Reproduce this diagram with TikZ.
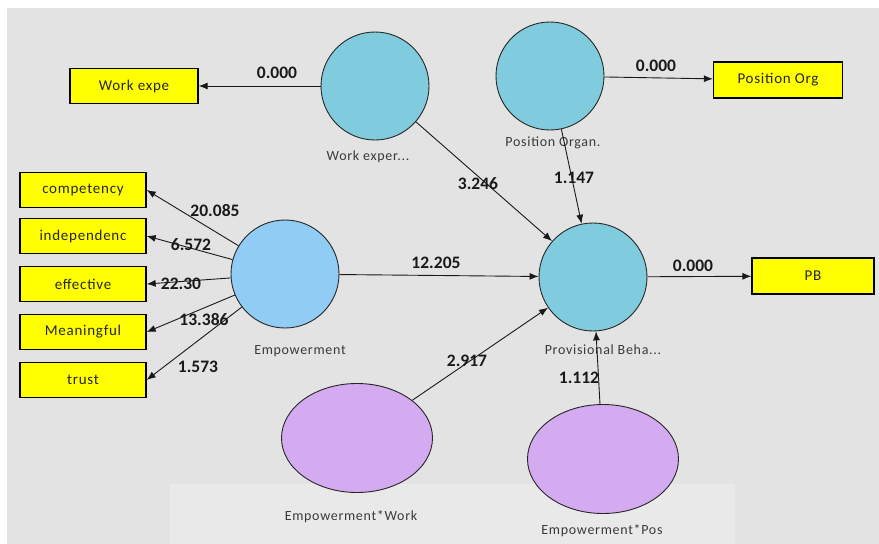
\documentclass[tikz,border=0pt]{standalone}
\usepackage{fontspec}
\setmainfont{Carlito}
\newfontfamily\spacedfont[LetterSpace=5]{Carlito}
\usetikzlibrary{arrows.meta,shapes.geometric}
\definecolor{bggray}{HTML}{E3E3E3}
\definecolor{wmark}{HTML}{E9E9E9}
\definecolor{lvteal}{HTML}{80CCDE}
\definecolor{lvblue}{HTML}{90CCF4}
\definecolor{lvlilac}{HTML}{D4AAF0}
\definecolor{boxyellow}{HTML}{FFFF00}
\definecolor{lbltext}{HTML}{3A3A3A}
\tikzset{
  latent/.style={circle, draw=black!85, line width=0.9pt, minimum size=108pt, inner sep=0pt},
  inter/.style={ellipse, draw=black!85, line width=0.9pt, fill=lvlilac, minimum width=151pt, minimum height=109pt, inner sep=0pt},
  indbox/.style={rectangle, draw=black, line width=1.3pt, fill=boxyellow, inner sep=0pt, font=\spacedfont\fontsize{15}{17}\selectfont, text=black!85},
  lvlabel/.style={font=\spacedfont\fontsize{14}{16}\selectfont, text=lbltext, inner sep=0pt},
  coef/.style={font=\bfseries\fontsize{17.5}{19}\selectfont, text=black!90, inner sep=0pt},
  path/.style={line width=0.9pt, draw=black!90, -{Latex[length=9pt,width=7pt]}}
}
\begin{document}
\begin{tikzpicture}[x=1pt,y=-1pt]
\useasboundingbox (0,0) rectangle (879,544);
\fill[white] (0,0) rectangle (879,544);
\fill[bggray] (7,8) rectangle (879,544);
\fill[wmark] (170,484) rectangle (735,544);

% latent variables
\node[latent, fill=lvteal] (we) at (375,86) {};
\node[latent, fill=lvteal] (po) at (550,76) {};
\node[latent, fill=lvblue] (emp) at (285,274) {};
\node[latent, fill=lvteal] (pb) at (593,277) {};
\node[inter] (ew) at (357,438) {};
\node[inter] (ep) at (603,459) {};

% latent labels
\node[lvlabel] (welbl) at (368,157) {Work exper...};
\node[lvlabel] (polbl) at (553,143) {Position Organ.};
\node[lvlabel] (emplbl) at (300,351) {Empowerment};
\node[lvlabel] (pblbl) at (603,350) {Provisional Beha...};
\node[lvlabel] (ewlbl) at (351,517) {Empowerment*Work};
\node[lvlabel] (eplbl) at (602,531) {Empowerment*Pos};

% indicators
\node[indbox, minimum width=128pt, minimum height=35pt] (wex) at (134,86) {Work expe};
\node[indbox, minimum width=129pt, minimum height=36pt] (pox) at (778,80) {Position Org};
\node[indbox, minimum width=122pt, minimum height=36pt] (pbx) at (813,276) {PB};
\node[indbox, minimum width=126pt, minimum height=35pt] (comp) at (83,190) {competency};
\node[indbox, minimum width=126pt, minimum height=35pt] (ind) at (83,236) {independenc};
\node[indbox, minimum width=126pt, minimum height=35pt] (eff) at (83,284) {effective};
\node[indbox, minimum width=126pt, minimum height=35pt] (mea) at (83,332) {Meaningful};
\node[indbox, minimum width=126pt, minimum height=35pt] (tru) at (83,380) {trust};

% paths
\draw[path] (we) -- (wex);
\draw[path] (po) -- (pox);
\draw[path] (pb) -- (pbx);
\draw[path] (emp) -- (comp.east);
\draw[path] (emp) -- (ind.east);
\draw[path] (emp) -- (eff.east);
\draw[path] (emp) -- (mea.east);
\draw[path] (emp) -- (tru.east);
\draw[path] (emp) -- (pb);
\draw[path] (we) -- (pb);
\draw[path] (po) -- (pb);
\draw[path] (ew) -- (pb);
\draw[path] (ep) -- (pb);

% coefficients
\node[coef] (c1) at (277,73) {0.000};
\node[coef] (c2) at (656,66) {0.000};
\node[coef] (c3) at (693,266) {0.000};
\node[coef] (c4) at (215,211) {20.085};
\node[coef] (c5) at (191,245) {6.572};
\node[coef] (c6) at (181,284) {22.30};
\node[coef] (c7) at (204,320) {13.386};
\node[coef] (c8) at (198,367) {1.573};
\node[coef] (c9) at (436,263) {12.205};
\node[coef] (c10) at (478,184) {3.246};
\node[coef] (c11) at (574,178) {1.147};
\node[coef] (c12) at (467,361) {2.917};
\node[coef] (c13) at (579,378) {1.112};
\end{tikzpicture}
\end{document}
